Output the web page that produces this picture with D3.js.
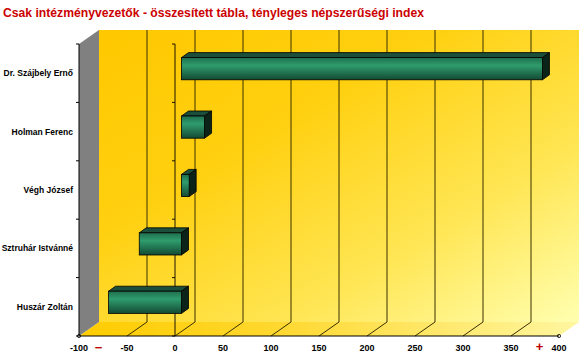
<!DOCTYPE html>
<html><head><meta charset="utf-8">
<script src="https://cdn.jsdelivr.net/npm/d3@7"></script>
<style>body{margin:0;background:#fff}svg{display:block}</style>
</head><body>
<script>
const titleText = "Csak intézményvezetők - összesített tábla, tényleges népszerűségi index";
const categories = ["Dr. Szájbely Ernő","Holman Ferenc","Végh József","Sztruhár Istvánné","Huszár Zoltán"];
const values = [376, 24, 8, -44, -76];
const xTickValues = [-100,-50,0,50,100,150,200,250,300,350,400];

const W = 585, H = 361;
const svg = d3.select("body").append("svg").attr("width", W).attr("height", H);
const defs = svg.append("defs");

const x = d3.scaleLinear().domain([-100,400]).range([79,559]);
const y = d3.scaleBand().domain(categories).range([44,336]).paddingInner(0.62).paddingOuter(0.31);
const DX = 20, DY = -14;          // wall depth
const BX = 6.5, BY = -4.5;        // bar front plane offset
const BDX = 7, BDY = -5;          // bar depth
const top0 = 44, bot0 = 336;

// gradients
const gWall = defs.append("linearGradient").attr("id","gWall").attr("x1",0).attr("y1",0).attr("x2",1).attr("y2",1);
[[0,"#FFC800"],[0.35,"#FFD010"],[0.7,"#FFE655"],[1,"#FFFFB0"]].forEach(s=>gWall.append("stop").attr("offset",s[0]).attr("stop-color",s[1]));
const gFloor = defs.append("linearGradient").attr("id","gFloor").attr("x1",0).attr("y1",0).attr("x2",1).attr("y2",0);
[[0,"#FFCC00"],[0.4,"#FFD830"],[1,"#FFF6A0"]].forEach(s=>gFloor.append("stop").attr("offset",s[0]).attr("stop-color",s[1]));
const gBar = defs.append("linearGradient").attr("id","gBar").attr("x1",0).attr("y1",0).attr("x2",0).attr("y2",1);
[[0,"#1e6e4d"],[0.35,"#2f9c6d"],[1,"#134a34"]].forEach(s=>gBar.append("stop").attr("offset",s[0]).attr("stop-color",s[1]));

// back wall
svg.append("rect").attr("x", x(-100)+DX).attr("y", top0+DY).attr("width", x(400)-x(-100)).attr("height", bot0-top0)
  .attr("fill","url(#gWall)");
// back gridlines
svg.append("g").selectAll("line").data(xTickValues.filter(v=>v>-100 && v<400)).join("line")
  .attr("x1", d=>x(d)+DX).attr("x2", d=>x(d)+DX).attr("y1", top0+DY).attr("y2", bot0+DY)
  .attr("stroke","#3a3000").attr("stroke-width",1);
// floor
const floorPts = [[x(-100),bot0],[x(400),bot0],[x(400)+DX,bot0+DY],[x(-100)+DX,bot0+DY]];
svg.append("polygon").attr("points", floorPts.map(p=>p.join(",")).join(" ")).attr("fill","url(#gFloor)");
svg.append("g").selectAll("line").data(xTickValues.filter(v=>v>-100 && v<400)).join("line")
  .attr("x1", d=>x(d)).attr("y1", bot0).attr("x2", d=>x(d)+DX).attr("y2", bot0+DY)
  .attr("stroke","#3a3000").attr("stroke-width",1);
// left wall
const leftPts = [[x(-100),top0],[x(-100)+DX,top0+DY],[x(-100)+DX,bot0+DY],[x(-100),bot0]];
svg.append("polygon").attr("points", leftPts.map(p=>p.join(",")).join(" ")).attr("fill","#808080");

// category boundaries
const step = y.step();
const bounds = categories.map(c=>y(c) - y.paddingInner()*step/2).concat([bot0]);
// left axis
svg.append("line").attr("x1",x(-100)).attr("x2",x(-100)).attr("y1",top0).attr("y2",bot0).attr("stroke","#000");
svg.append("g").selectAll("line").data(bounds).join("line")
  .attr("x1",x(-100)-3).attr("x2",x(-100)).attr("y1",d=>d).attr("y2",d=>d).attr("stroke","#000");
// zero axis
svg.append("line").attr("x1",x(0)).attr("x2",x(0)).attr("y1",top0).attr("y2",bot0).attr("stroke","#1a1400");
svg.append("g").selectAll("line").data(bounds).join("line")
  .attr("x1",x(0)-3).attr("x2",x(0)).attr("y1",d=>d).attr("y2",d=>d).attr("stroke","#1a1400");

// bars
const data = categories.map((c,i)=>({c, v: values[i]}));
const bars = svg.append("g").selectAll("g").data(data).join("g");
bars.each(function(d){
  const g = d3.select(this);
  const x0 = Math.min(x(0),x(d.v))+BX, x1 = Math.max(x(0),x(d.v))+BX;
  const yt = y(d.c)+BY, yb = yt + y.bandwidth();
  g.append("polygon").attr("points",[[x0,yt],[x1,yt],[x1+BDX,yt+BDY],[x0+BDX,yt+BDY]].map(p=>p.join(",")).join(" "))
    .attr("fill","#1b4f3b").attr("stroke","#000").attr("stroke-width",0.8).attr("stroke-linejoin","round");
  g.append("polygon").attr("points",[[x1,yt],[x1+BDX,yt+BDY],[x1+BDX,yb+BDY],[x1,yb]].map(p=>p.join(",")).join(" "))
    .attr("fill","#0b2319").attr("stroke","#000").attr("stroke-width",0.8).attr("stroke-linejoin","round");
  g.append("rect").attr("x",x0).attr("y",yt).attr("width",x1-x0).attr("height",yb-yt)
    .attr("fill","url(#gBar)").attr("stroke","#000").attr("stroke-width",0.8);
});

// x axis
svg.append("line").attr("x1",x(-100)).attr("x2",x(400)).attr("y1",bot0).attr("y2",bot0).attr("stroke","#000");
svg.append("circle").attr("cx",x(400)).attr("cy",bot0).attr("r",1.6).attr("fill","none").attr("stroke","#000").attr("stroke-width",0.8);
svg.append("circle").attr("cx",x(-100)).attr("cy",bot0).attr("r",1.6).attr("fill","none").attr("stroke","#000").attr("stroke-width",0.8);
svg.append("g").selectAll("text").data(xTickValues).join("text")
  .attr("x",d=>x(d)).attr("y",351).attr("text-anchor","middle")
  .attr("font-family","Arial, 'Liberation Sans', sans-serif").attr("font-size","9px").attr("font-weight","bold")
  .attr("fill","#000").text(d=>d);

// category labels
svg.append("g").selectAll("text").data(categories).join("text")
  .attr("x",73).attr("y",c=>y(c)+y.bandwidth()/2+3).attr("text-anchor","end")
  .attr("font-family","Arial, 'Liberation Sans', sans-serif").attr("font-size","8.5px").attr("font-weight","bold")
  .attr("fill","#000").text(c=>c);

// red minus / plus
svg.append("text").attr("x",98.5).attr("y",352).attr("text-anchor","middle")
  .attr("font-family","Arial, 'Liberation Sans', sans-serif").attr("font-size","13px").attr("font-weight","bold")
  .attr("fill","#c00000").text("−");
svg.append("text").attr("x",539.5).attr("y",350.5).attr("text-anchor","middle")
  .attr("font-family","Arial, 'Liberation Sans', sans-serif").attr("font-size","13px").attr("font-weight","bold")
  .attr("fill","#c00000").text("+");

// title
svg.append("text").attr("x",3).attr("y",17)
  .attr("font-family","Arial, 'Liberation Sans', sans-serif").attr("font-size","12px").attr("font-weight","bold")
  .attr("fill","#cc0000").attr("textLength",421).attr("lengthAdjust","spacingAndGlyphs").text(titleText);
</script>
</body></html>
